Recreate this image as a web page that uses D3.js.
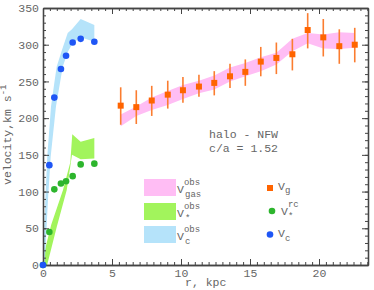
<!DOCTYPE html>
<html>
<head>
<meta charset="utf-8">
<script src="https://cdn.jsdelivr.net/npm/d3@7"></script>
<style>
  body { margin: 0; background: #fff; }
  text { font-family: "Liberation Mono", "DejaVu Sans Mono", monospace; fill: #666; }
</style>
</head>
<body>
<div id="chart"></div>
<script>
// gas rotation curve (orange squares with error bars)
const gasR = [5.63, 6.76, 7.88, 9.04, 10.14, 11.30, 12.41, 13.55, 14.66, 15.78, 16.91, 18.07, 19.18, 20.31, 21.47, 22.59];
const gasV = [217, 215, 224, 232, 238, 243, 248, 257, 263, 277, 282, 287, 320, 310, 298, 300];
const gasErrTop = [242, 238, 244, 251, 256, 259, 264, 274, 280, 297, 303, 308, 343, 335, 321, 323];
const gasErrBot = [191, 192, 203, 213, 221, 229, 231, 241, 244, 257, 260, 265, 295, 284, 274, 276];
// pink band V_gas^obs
const gasBandHi = [205, 216, 228, 237, 245, 251, 258, 269, 275, 283, 289, 308, 316, 314, 317, 316];
const gasBandLo = [189, 203, 211, 218, 226, 234, 239, 250, 257, 264, 273, 291, 302, 295, 294, 296];

// inner points
const innerR = [0, 0.46, 0.82, 1.30, 1.67, 2.15, 2.73, 3.72];
const starV = [0, 45, 103, 111, 114, 121, 137, 138];
const circV = [0, 136, 228, 267, 285, 303, 308, 304];

// band outlines [r, v]
const starBand = [[0, 0], [0, 10], [0.6, 55], [1.45, 102], [1.98, 140], [2.12, 178], [2.73, 168], [3.72, 173],
  [3.72, 145], [2.73, 144], [2.1, 150], [1.88, 122], [1.72, 102], [1.0, 52], [0.3, 0]];
const circBand = [[0, 0], [0.17, 89], [0.31, 148], [0.58, 216], [0.82, 248], [0.99, 270], [1.38, 293], [1.79, 316],
  [2.1, 321], [2.73, 335], [3.72, 327], [3.72, 304], [2.73, 310], [2.15, 302], [1.79, 290], [1.43, 270],
  [1.23, 248], [0.94, 216], [0.56, 148], [0.36, 89], [0.12, 0]];

const xTicks = [0, 5, 10, 15, 20];
const yTicks = [0, 50, 100, 150, 200, 250, 300, 350];

const W = 374, H = 290, margin = {top: 8, right: 6, bottom: 25, left: 43},
    width = W - margin.left - margin.right,
    height = H - margin.top - margin.bottom;

const colors = {gasBand: "#ffbdf4", starBand: "#a2f45c", circBand: "#b5e3fa",
    gas: "#ff6400", err: "#fb7d30", star: "#2db52d", circ: "#1f56f5"};

const svg = d3.select("#chart").append("svg")
    .attr("width", W).attr("height", H)
    .append("g")
    .attr("transform", `translate(${margin.left},${margin.top})`);

const x = d3.scaleLinear().domain([0, 23.55]).range([0, width]);
const y = d3.scaleLinear().domain([0, 350]).range([height, 0]);

svg.append("clipPath").attr("id", "clip")
    .append("rect").attr("width", width).attr("height", height);

const plot = svg.append("g").attr("clip-path", "url(#clip)");

// bands
plot.append("path")
    .datum(gasR.map((r, i) => ({r, lo: gasBandLo[i], hi: gasBandHi[i]})))
    .attr("fill", colors.gasBand)
    .attr("d", d3.area().x(d => x(d.r)).y0(d => y(d.lo)).y1(d => y(d.hi)));

const outline = d3.line().x(d => x(d[0])).y(d => y(d[1]));
plot.append("path").attr("fill", colors.starBand).attr("d", outline(starBand) + "Z");
plot.append("path").attr("fill", colors.circBand).attr("d", outline(circBand) + "Z");

// axes
const minorX = d3.range(0, 23.6, 0.5), minorY = d3.range(0, 351, 10);
function addAxis(axisFn, scale, major, minor, transform, labels) {
    const gMinor = svg.append("g").attr("transform", transform)
        .call(axisFn(scale).tickValues(minor).tickSize(-3).tickSizeOuter(0).tickFormat(""));
    const gMajor = svg.append("g").attr("transform", transform)
        .call(axisFn(scale).tickValues(major).tickSize(-6).tickSizeOuter(0).tickPadding(4)
            .tickFormat(labels ? d3.format("d") : ""));
    [gMinor, gMajor].forEach(g => {
        g.selectAll("line").attr("stroke", "#444").attr("stroke-width", 1);
        g.select(".domain").attr("stroke", "#444").attr("stroke-width", 1.3);
        g.selectAll("text").style("font-family", "Liberation Mono, monospace")
            .style("font-size", "11.5px").attr("fill", "#666");
    });
}
addAxis(d3.axisBottom, x, xTicks, minorX, `translate(0,${height})`, true);
addAxis(d3.axisTop, x, xTicks, minorX, "translate(0,0)", false);
addAxis(d3.axisLeft, y, yTicks, minorY, "translate(0,0)", true);
addAxis(d3.axisRight, y, yTicks, minorY, `translate(${width},0)`, false);

// error bars and gas squares
svg.append("g").selectAll("line").data(gasR).join("line")
    .attr("x1", d => x(d)).attr("x2", d => x(d))
    .attr("y1", (d, i) => y(gasErrBot[i])).attr("y2", (d, i) => y(gasErrTop[i]))
    .attr("stroke", colors.err).attr("stroke-width", 1.6);
svg.append("g").selectAll("rect").data(gasR).join("rect")
    .attr("x", d => x(d) - 3).attr("y", (d, i) => y(gasV[i]) - 3)
    .attr("width", 6).attr("height", 6).attr("fill", colors.gas);

// star and circular velocity points
svg.append("g").selectAll("circle").data(innerR).join("circle")
    .attr("cx", d => x(d)).attr("cy", (d, i) => y(starV[i])).attr("r", 3.3)
    .attr("fill", colors.star);
svg.append("g").selectAll("circle").data(innerR).join("circle")
    .attr("cx", d => x(d)).attr("cy", (d, i) => y(circV[i])).attr("r", 3.3)
    .attr("fill", colors.circ);

// annotation
const root = d3.select("svg");
root.append("text").attr("x", 209).attr("y", 137.5).style("font-size", "11.5px").text("halo - NFW");
root.append("text").attr("x", 209).attr("y", 151.5).style("font-size", "11.5px").text("c/a = 1.52");

// legend: swatches
const swatches = [
    {color: colors.gasBand, sub: "gas", y: 179},
    {color: colors.starBand, sub: "*", y: 203},
    {color: colors.circBand, sub: "c", y: 226}
];
swatches.forEach(s => {
    root.append("rect").attr("x", 144).attr("y", s.y).attr("width", 32).attr("height", 17).attr("fill", s.color);
    const t = root.append("text").attr("x", 177).attr("y", s.y + 14).style("font-size", "11.5px");
    t.append("tspan").text("V");
    t.append("tspan").attr("dy", -8).style("font-size", "9px").text("obs");
    t.append("tspan").attr("x", 185).attr("dy", 12).style("font-size", "9px").text(s.sub);
});

// legend: markers
root.append("rect").attr("x", 267).attr("y", 185).attr("width", 6).attr("height", 6).attr("fill", colors.gas);
root.append("circle").attr("cx", 272).attr("cy", 211).attr("r", 3.3).attr("fill", colors.star);
root.append("circle").attr("cx", 270).attr("cy", 234.5).attr("r", 3.3).attr("fill", colors.circ);

const lg = root.append("text").attr("x", 278).attr("y", 190).style("font-size", "11.5px");
lg.append("tspan").text("V");
lg.append("tspan").attr("dy", 3).style("font-size", "9px").text("g");
const ls = root.append("text").attr("x", 281).attr("y", 215).style("font-size", "11.5px");
ls.append("tspan").text("V");
ls.append("tspan").attr("dy", -8).style("font-size", "9px").text("rc");
ls.append("tspan").attr("x", 288).attr("dy", 12).style("font-size", "9px").text("*");
const lc = root.append("text").attr("x", 278).attr("y", 237).style("font-size", "11.5px");
lc.append("tspan").text("V");
lc.append("tspan").attr("dy", 4).style("font-size", "9px").text("c");

// axis titles
root.append("text").attr("x", 185).attr("y", 286).style("font-size", "11.5px").text("r, kpc");
const yl = root.append("text").attr("transform", "translate(11,185) rotate(-90)").style("font-size", "11.5px");
yl.append("tspan").text("velocity,km s");
yl.append("tspan").attr("dy", -5).style("font-size", "9px").text("-1");
</script>
</body>
</html>
